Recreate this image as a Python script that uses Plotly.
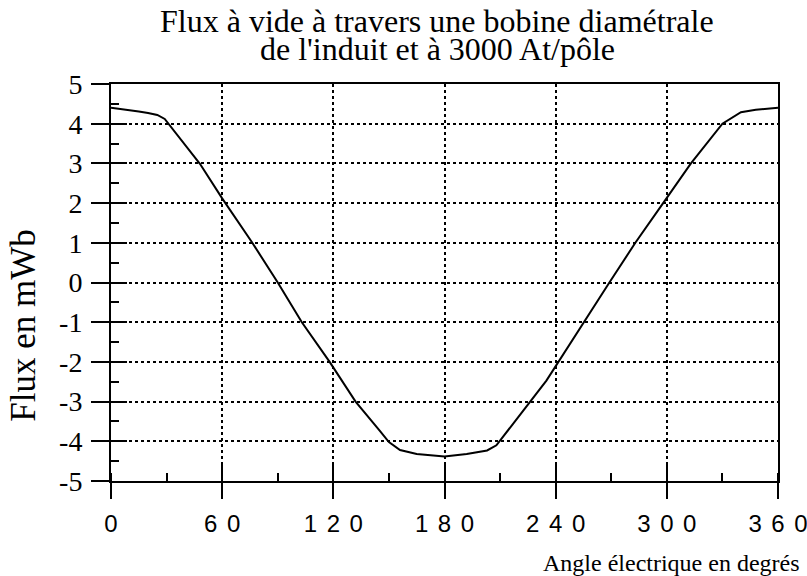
import plotly.graph_objects as go

# Data (angle in electrical degrees, flux in mWb)
angle_deg = [0, 10, 15, 20, 25, 29, 40, 48, 60, 70, 76, 90, 103, 118, 132,
             145, 150, 156, 165, 180, 192, 203, 208, 217, 227, 235, 269,
             283, 298, 313, 330, 340, 348, 360]
flux_mwb = [4.40, 4.35, 4.31, 4.27, 4.22, 4.12, 3.45, 2.99, 2.12, 1.45, 1.02, 0.0,
            -1.0, -2.0, -3.0, -3.73, -4.02, -4.22, -4.32, -4.38, -4.32, -4.23,
            -4.10, -3.56, -2.97, -2.47, 0.0, 1.0, 2.0, 3.0, 4.0, 4.29, 4.35, 4.40]

SP = "\u2009\u2009"
x_tick_vals = [0, 60, 120, 180, 240, 300, 360]
x_tick_labels = ["0", "60", "120", "180", "240", "300", "360"]
x_tick_text = [SP.join(t) for t in x_tick_labels]
y_tick_vals = [5, 4, 3, 2, 1, 0, -1, -2, -3, -4, -5]
y_tick_text = ["5", "4", "3", "2", "1", "0", "-1", "-2", "-3", "-4", "-5"]

title_line1 = "Flux à vide à travers une bobine diamétrale"
title_line2 = "de l'induit et à 3000 At/pôle"
x_title = "Angle électrique en degrés"
y_title = "Flux en mWb"

SERIF = "Liberation Serif, Times New Roman, serif"
SANS = "Liberation Sans, Arial, sans-serif"

fig = go.Figure()
fig.add_trace(go.Scatter(x=angle_deg, y=flux_mwb, mode="lines",
                         line=dict(color="black", width=2), showlegend=False,
                         hoverinfo="skip"))
# invisible trace on overlay axes (for inside part of major ticks)
fig.add_trace(go.Scatter(x=[0], y=[0], xaxis="x2", yaxis="y2", mode="markers",
                         marker=dict(opacity=0), showlegend=False, hoverinfo="skip"))

fig.update_layout(
    width=807, height=576,
    margin=dict(l=111, r=29, t=84, b=95),
    paper_bgcolor="white", plot_bgcolor="white",
    xaxis=dict(range=[0, 360], tickvals=x_tick_vals, ticktext=x_tick_text,
               automargin=False, ticklabeloverflow="allow",
               ticks="outside", ticklen=16, tickwidth=1.5, tickcolor="black",
               showline=True, linecolor="black", linewidth=2, mirror=True,
               showgrid=True, gridcolor="black", griddash="dot", gridwidth=1.5,
               zeroline=False,
               tickfont=dict(family=SANS, size=24, color="black"),
               ticklabelstandoff=4,
               minor=dict(dtick=30, tick0=0, ticks="inside", ticklen=8,
                          tickwidth=1.5, tickcolor="black", showgrid=False)),
    yaxis=dict(range=[-5, 5], tickvals=y_tick_vals, ticktext=y_tick_text,
               automargin=False, ticklabeloverflow="allow",
               ticks="outside", ticklen=18, tickwidth=1.5, tickcolor="black",
               showline=True, linecolor="black", linewidth=2, mirror=True,
               showgrid=True, gridcolor="black", griddash="dot", gridwidth=1.5,
               zeroline=False,
               tickfont=dict(family=SERIF, size=28, color="black"),
               ticklabelstandoff=3,
               minor=dict(dtick=1, tick0=0.5, ticks="inside", ticklen=8,
                          tickwidth=1.5, tickcolor="black", showgrid=False)),
    xaxis2=dict(range=[0, 360], overlaying="x", tickvals=x_tick_vals,
                automargin=False,
                ticks="inside", ticklen=18, tickwidth=1.5, tickcolor="black",
                showticklabels=False, showgrid=False, zeroline=False, showline=False),
    yaxis2=dict(range=[-5, 5], overlaying="y", tickvals=y_tick_vals,
                automargin=False,
                ticks="inside", ticklen=16, tickwidth=1.5, tickcolor="black",
                showticklabels=False, showgrid=False, zeroline=False, showline=False),
    annotations=[
        dict(text=title_line1, xref="paper", yref="paper", x=0.489, y=1.159,
             xanchor="center", yanchor="middle", showarrow=False,
             font=dict(family=SERIF, size=32, color="black")),
        dict(text=title_line2, xref="paper", yref="paper", x=0.489, y=1.088,
             xanchor="center", yanchor="middle", showarrow=False,
             font=dict(family=SERIF, size=32, color="black")),
        dict(text=x_title, xref="paper", yref="paper", x=1.036, y=-0.206,
             xanchor="right", yanchor="middle", showarrow=False,
             font=dict(family=SERIF, size=24, color="black")),
        dict(text=y_title, xref="paper", yref="paper", x=-0.131, y=0.39,
             xanchor="center", yanchor="middle", showarrow=False, textangle=-90,
             font=dict(family=SERIF, size=35, color="black")),
    ],
)

fig.write_html("out.html", config={"displayModeBar": False},
               post_script="document.body.style.margin='0';document.body.style.overflow='hidden';")
